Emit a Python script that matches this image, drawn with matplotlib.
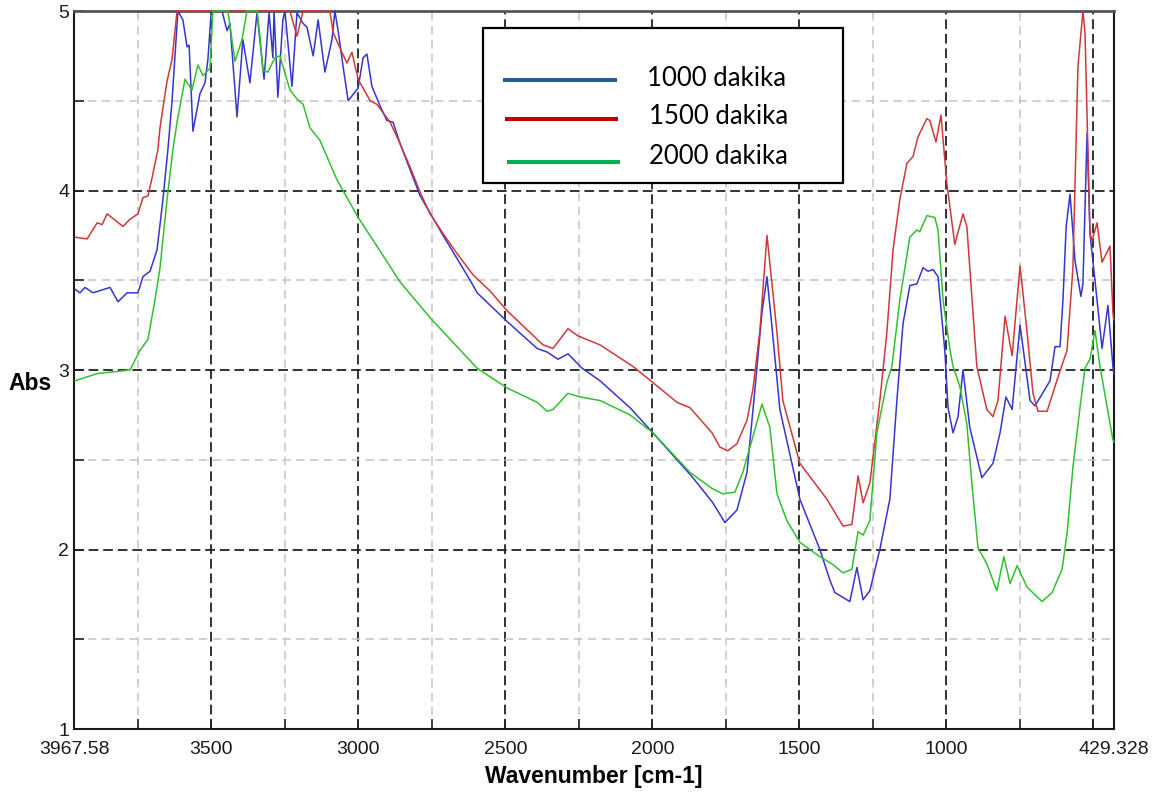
import matplotlib
matplotlib.use("Agg")
import matplotlib.pyplot as plt
from matplotlib.patches import Rectangle
from matplotlib.lines import Line2D
from matplotlib.ticker import FixedLocator, NullFormatter

plt.rcParams['lines.scale_dashes'] = False

# ---------------- data (wavenumber cm-1, Abs) ----------------
red_wn = [3964, 3923, 3889, 3872, 3855, 3801, 3777, 3750, 3733, 3716, 3702, 3682, 3675, 3651, 3634,
          3617, 3233, 3209, 3188, 3097, 3086, 3056, 3039, 3022, 3001, 2960, 2937, 2892, 2858, 2824,
          2790, 2756, 2712, 2665, 2610, 2552, 2494, 2372, 2338, 2287, 2253, 2178, 2066, 1998, 1916,
          1872, 1797, 1770, 1743, 1712, 1678, 1658, 1634, 1610, 1576, 1556, 1498, 1406, 1351, 1321,
          1300, 1283, 1260, 1226, 1202, 1181, 1158, 1134, 1113, 1096, 1066, 1056, 1035, 1018, 998,
          971, 943, 930, 896, 862, 841, 824, 800, 776, 749, 725, 705, 688, 657, 620, 589, 569, 552,
          535, 528, 511, 504, 487, 470, 443, 433, 430]
red_abs = [3.74, 3.73, 3.82, 3.81, 3.87, 3.80, 3.84, 3.87, 3.96, 3.97, 4.07, 4.23, 4.35, 4.61, 4.73,
           5.00, 5.00, 4.86, 5.00, 5.00, 4.88, 4.77, 4.71, 4.77, 4.62, 4.50, 4.48, 4.38, 4.26, 4.13,
           3.99, 3.87, 3.76, 3.65, 3.53, 3.44, 3.33, 3.14, 3.12, 3.23, 3.19, 3.14, 3.02, 2.93, 2.82,
           2.79, 2.65, 2.57, 2.55, 2.59, 2.72, 2.89, 3.22, 3.75, 3.21, 2.83, 2.48, 2.28, 2.13, 2.14,
           2.41, 2.26, 2.37, 2.83, 3.21, 3.67, 3.95, 4.15, 4.19, 4.30, 4.40, 4.39, 4.27, 4.42, 4.04,
           3.70, 3.87, 3.80, 3.02, 2.78, 2.74, 2.83, 3.30, 3.08, 3.58, 3.21, 2.87, 2.77, 2.77, 2.96,
           3.11, 3.57, 4.69, 5.00, 4.88, 3.76, 3.72, 3.82, 3.60, 3.69, 3.32, 3.28]

blue_wn = [3964, 3947, 3930, 3903, 3845, 3818, 3787, 3750, 3733, 3709, 3685, 3665, 3648, 3634, 3614,
           3597, 3583, 3576, 3563, 3539, 3522, 3512, 3501, 3495, 3464, 3447, 3437, 3413, 3393, 3369,
           3345, 3321, 3304, 3291, 3287, 3274, 3257, 3250, 3226, 3209, 3188, 3175, 3154, 3137, 3114,
           3090, 3080, 3069, 3052, 3035, 3001, 2984, 2971, 2954, 2926, 2903, 2882, 2858, 2790, 2712,
           2620, 2596, 2494, 2392, 2358, 2321, 2287, 2239, 2178, 2076, 1998, 1862, 1794, 1753, 1712,
           1678, 1651, 1627, 1610, 1593, 1566, 1498, 1430, 1396, 1379, 1328, 1304, 1283, 1260, 1226,
           1192, 1168, 1147, 1124, 1100, 1079, 1062, 1045, 1028, 1005, 994, 977, 960, 943, 920, 879,
           841, 817, 797, 776, 749, 715, 698, 647, 630, 613, 603, 592, 579, 562, 542, 535, 521, 511,
           487, 470, 450, 433, 430]
blue_abs = [3.45, 3.43, 3.46, 3.43, 3.46, 3.38, 3.43, 3.43, 3.52, 3.55, 3.67, 3.95, 4.23, 4.50, 5.00,
            4.95, 4.80, 4.81, 4.33, 4.54, 4.60, 4.73, 4.99, 5.00, 5.00, 4.89, 4.93, 4.41, 4.84, 4.60,
            4.99, 4.62, 4.99, 4.74, 5.00, 4.52, 4.95, 5.00, 4.58, 4.99, 4.93, 4.91, 4.75, 4.95, 4.66,
            4.84, 5.00, 4.89, 4.69, 4.50, 4.57, 4.74, 4.76, 4.58, 4.47, 4.39, 4.38, 4.26, 3.97, 3.75,
            3.50, 3.43, 3.27, 3.12, 3.10, 3.06, 3.09, 3.01, 2.94, 2.79, 2.65, 2.40, 2.26, 2.15, 2.22,
            2.43, 2.89, 3.32, 3.52, 3.24, 2.78, 2.28, 2.00, 1.83, 1.76, 1.71, 1.90, 1.72, 1.77, 2.00,
            2.28, 2.83, 3.26, 3.47, 3.48, 3.57, 3.55, 3.56, 3.52, 3.11, 2.79, 2.65, 2.74, 3.00, 2.68, 2.40,
            2.48, 2.65, 2.85, 2.78, 3.25, 2.83, 2.80, 2.94, 3.13, 3.13, 3.39, 3.80, 3.98, 3.61, 3.41, 3.48,
            4.32, 3.76, 3.39, 3.12, 3.36, 3.02, 2.98]

green_wn = [3964, 3889, 3777, 3743, 3716, 3692, 3675, 3651, 3631, 3617, 3590, 3566, 3546, 3529, 3505,
            3495, 3444, 3420, 3396, 3379, 3345, 3335, 3325, 3308, 3284, 3267, 3233, 3209, 3188, 3165,
            3131, 3073, 3001, 2937, 2858, 2750, 2596, 2494, 2392, 2358, 2338, 2287, 2246, 2178, 2076,
            1998, 1872, 1797, 1760, 1719, 1692, 1661, 1627, 1600, 1576, 1542, 1498, 1430, 1389, 1351,
            1321, 1300, 1283, 1260, 1236, 1202, 1185, 1158, 1124, 1100, 1090, 1066, 1039, 1028, 1011,
            988, 977, 954, 930, 913, 892, 862, 828, 804, 783, 759, 725, 674, 640, 606, 589, 569, 545,
            528, 511, 494, 477, 433, 430]
green_abs = [2.94, 2.98, 3.00, 3.11, 3.17, 3.39, 3.57, 3.95, 4.23, 4.38, 4.62, 4.56, 4.70, 4.64, 4.68,
             5.00, 5.00, 4.72, 4.84, 5.00, 5.00, 4.86, 4.67, 4.66, 4.74, 4.75, 4.56, 4.51, 4.48, 4.35,
             4.28, 4.06, 3.85, 3.69, 3.49, 3.28, 3.01, 2.90, 2.82, 2.77, 2.78, 2.87, 2.85, 2.83, 2.75,
             2.65, 2.43, 2.34, 2.31, 2.32, 2.43, 2.61, 2.81, 2.68, 2.31, 2.16, 2.04, 1.96, 1.92, 1.87,
             1.89, 2.10, 2.08, 2.16, 2.65, 2.93, 3.02, 3.39, 3.74, 3.78, 3.77, 3.86, 3.85, 3.78, 3.39,
             3.12, 3.02, 2.91, 2.70, 2.37, 2.01, 1.92, 1.77, 1.96, 1.81, 1.91, 1.79, 1.71, 1.76, 1.89, 2.09,
             2.46, 2.79, 3.01, 3.06, 3.22, 3.02, 2.61, 2.60]

series_names = ["1000 dakika", "1500 dakika", "2000 dakika"]
legend_colors = ["#255E91", "#C00000", "#00B050"]
line_colors = ["#3535D0", "#D03838", "#30C030"]

x_min, x_max = 3967.58, 429.328
x_major = [3967.58, 3500, 3000, 2500, 2000, 1500, 1000, 500, 429.328]
x_major_labels = ["3967.58", "3500", "3000", "2500", "2000", "1500", "1000", "", "429.328"]
x_minor = [3750, 3250, 2750, 2250, 1750, 1250, 750]
y_major = [1, 2, 3, 4, 5]
y_minor = [1.5, 2.5, 3.5, 4.5]

# ---------------- figure ----------------
W, H = 1162, 796
fig = plt.figure(figsize=(W / 100, H / 100), dpi=100)
L, R, T, B = 74, 1114, 11, 729
ax = fig.add_axes([L / W, 1 - B / H, (R - L) / W, (B - T) / H])
ax.set_xlim(x_min, x_max)
ax.set_ylim(1, 5)

# grid
for xv in x_major[1:-1]:
    ax.axvline(xv, color="#222222", lw=1.3, dashes=(7, 3.5), zorder=1)
for xv in x_minor:
    ax.axvline(xv, color="#c4c4c4", lw=1.1, dashes=(6, 4), zorder=1)
for yv in y_major[1:-1]:
    ax.axhline(yv, color="#222222", lw=1.3, dashes=(7, 3.5), zorder=1)
for yv in y_minor:
    ax.axhline(yv, color="#c4c4c4", lw=1.1, dashes=(6, 4), zorder=1)

# spectra
for wn, ab, c in [(blue_wn, blue_abs, line_colors[0]),
                  (red_wn, red_abs, line_colors[1]),
                  (green_wn, green_abs, line_colors[2])]:
    ax.plot(wn, ab, color=c, lw=1.1, zorder=3, clip_on=False, solid_joinstyle="round")

# ticks
tickfont = dict(family="Liberation Sans", size=14)
ax.xaxis.set_major_locator(FixedLocator(x_major))
ax.xaxis.set_minor_locator(FixedLocator(x_minor))
ax.set_xticklabels(x_major_labels, **tickfont)
ax.xaxis.set_minor_formatter(NullFormatter())
ax.yaxis.set_major_locator(FixedLocator(y_major))
ax.yaxis.set_minor_locator(FixedLocator(y_minor))
ax.set_yticklabels([str(v) for v in y_major], **tickfont)
ax.tick_params(axis="both", which="both", direction="in", length=7.5, width=1.2, color="#222222")
ax.tick_params(axis="x", which="major", pad=9, labelcolor="#1a1a1a")
ax.tick_params(axis="y", which="major", pad=3.5, labelcolor="#1a1a1a")

for side in ["left", "right", "bottom"]:
    ax.spines[side].set_color("#1a1a1a")
    ax.spines[side].set_linewidth(1.5)
ax.spines["top"].set_color("#555555")
ax.spines["top"].set_linewidth(2)

ax.set_xlabel("Wavenumber [cm-1]", family="Liberation Sans", fontsize=16.5, fontweight="bold", labelpad=5)
fig.text(30 / W, 1 - 383 / H, "Abs", family="Liberation Sans", fontsize=16.5, fontweight="bold",
         ha="center", va="center")

# legend box (manual)
def fx(px):
    return px / W

def fy(py):
    return 1 - py / H

fig.patches.append(Rectangle((fx(483), fy(183)), fx(843) - fx(483), fy(28) - fy(183),
                             transform=fig.transFigure, facecolor="white", edgecolor="black",
                             lw=1.6, zorder=5))
leg_rows = [(503, 617, 79.5, 647, 78), (505, 618, 119, 649, 117), (507, 620, 161.5, 649, 157)]
for (x0, x1, yl, xt, yt), name, col in zip(leg_rows, series_names, legend_colors):
    fig.lines.append(Line2D([fx(x0), fx(x1)], [fy(yl), fy(yl)], transform=fig.transFigure,
                            color=col, lw=2.9, solid_capstyle="butt", zorder=6))
    fig.text(fx(xt), fy(yt), name, family="Lato", fontsize=18.5, ha="left", va="center",
             color="black", zorder=7)

fig.savefig("out.png", dpi=100)
